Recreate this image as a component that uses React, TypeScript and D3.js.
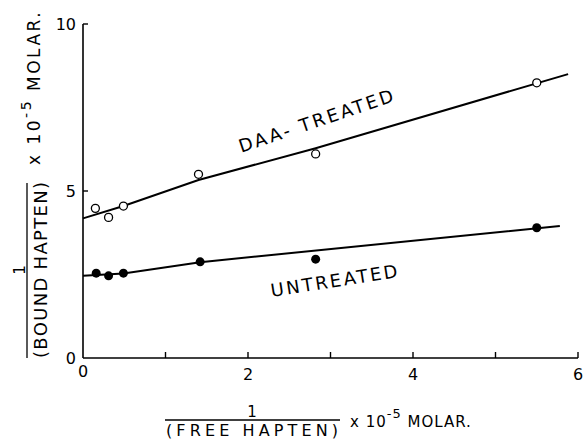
import React, { useRef, useEffect } from 'react';
import * as d3 from 'd3';

// reciprocal plot
const daaX = [0.15, 0.31, 0.49, 1.40, 2.82, 5.50];
const daaY = [4.48, 4.21, 4.55, 5.50, 6.11, 8.24];
const untreatedX = [0.16, 0.31, 0.49, 1.42, 2.82, 5.50];
const untreatedY = [2.54, 2.46, 2.54, 2.88, 2.96, 3.90];

// hand drawn fit lines
const daaFitX = [0, 0.49, 1.40, 2.82, 5.88];
const daaFitY = [4.18, 4.55, 5.33, 6.28, 8.50];
const untreatedFitX = [0, 0.49, 1.42, 5.78];
const untreatedFitY = [2.46, 2.53, 2.87, 3.95];

const xTickMarks = [1, 2, 3, 4, 5, 6];
const xTickLabels = [0, 2, 4, 6];
const yTickMarks = [5, 10];
const yTickLabels = [0, 5, 10];

const FONT = "'DejaVu Sans', sans-serif";

const App = () => {
  const svgRef = useRef<SVGSVGElement>(null);

  useEffect(() => {
    const svg = d3.select(svgRef.current);
    svg.selectAll('*').remove();

    const x = d3.scaleLinear().domain([0, 6]).range([83, 578]);
    const y = d3.scaleLinear().domain([0, 10]).range([358, 24]);

    const g = svg.append('g');

    // axes
    g.append('line')
      .attr('x1', x(0)).attr('x2', x(0))
      .attr('y1', y(0)).attr('y2', y(10))
      .attr('stroke', '#000').attr('stroke-width', 1.6);
    g.append('line')
      .attr('x1', x(0)).attr('x2', x(6))
      .attr('y1', y(0)).attr('y2', y(0))
      .attr('stroke', '#000').attr('stroke-width', 1.6);

    g.selectAll('.xtick')
      .data(xTickMarks)
      .enter().append('line')
      .attr('x1', d => x(d)).attr('x2', d => x(d))
      .attr('y1', y(0)).attr('y2', y(0) - 6)
      .attr('stroke', '#000').attr('stroke-width', 1.4);

    g.selectAll('.ytick')
      .data(yTickMarks)
      .enter().append('line')
      .attr('x1', x(0)).attr('x2', x(0) + 5)
      .attr('y1', d => y(d)).attr('y2', d => y(d))
      .attr('stroke', '#000').attr('stroke-width', 1.4);

    g.selectAll('.xlabel')
      .data(xTickLabels)
      .enter().append('text')
      .attr('x', d => x(d))
      .attr('y', d => (d === 0 ? y(0) + 19 : y(0) + 22))
      .attr('text-anchor', 'middle')
      .attr('font-family', FONT)
      .attr('font-size', 16)
      .text(d => d);

    g.selectAll('.ylabel')
      .data(yTickLabels)
      .enter().append('text')
      .attr('x', x(0) - 7)
      .attr('y', d => y(d) + 6)
      .attr('text-anchor', 'end')
      .attr('font-family', FONT)
      .attr('font-size', 16)
      .text(d => d);

    // fit lines
    const line = d3.line<number>()
      .x(d => x(d[0]))
      .y(d => y(d[1]));

    g.append('path')
      .datum(daaFitX.map((v, i) => [v, daaFitY[i]]))
      .attr('d', line as any)
      .attr('fill', 'none')
      .attr('stroke', '#000')
      .attr('stroke-width', 2);

    g.append('path')
      .datum(untreatedFitX.map((v, i) => [v, untreatedFitY[i]]))
      .attr('d', line as any)
      .attr('fill', 'none')
      .attr('stroke', '#000')
      .attr('stroke-width', 2);

    // points
    g.selectAll('.open')
      .data(daaX.map((v, i) => [v, daaY[i]]))
      .enter().append('circle')
      .attr('cx', d => x(d[0]))
      .attr('cy', d => y(d[1]))
      .attr('r', 4)
      .attr('fill', '#fff')
      .attr('stroke', '#000')
      .attr('stroke-width', 1.3);

    g.selectAll('.filled')
      .data(untreatedX.map((v, i) => [v, untreatedY[i]]))
      .enter().append('circle')
      .attr('cx', d => x(d[0]))
      .attr('cy', d => y(d[1]))
      .attr('r', 4.5)
      .attr('fill', '#000');

    // series labels
    g.append('text')
      .attr('transform', 'translate(318,127) rotate(-18.6)')
      .attr('text-anchor', 'middle')
      .attr('font-family', FONT)
      .attr('font-size', 18)
      .attr('textLength', 162)
      .text('DAA- TREATED');

    g.append('text')
      .attr('transform', 'translate(335,287) rotate(-9)')
      .attr('text-anchor', 'middle')
      .attr('font-family', FONT)
      .attr('font-size', 18)
      .attr('textLength', 128)
      .text('UNTREATED');

    // x axis title
    g.append('text')
      .attr('x', 252).attr('y', 417)
      .attr('text-anchor', 'middle')
      .attr('font-family', FONT)
      .attr('font-size', 15)
      .text('1');
    g.append('line')
      .attr('x1', 165).attr('x2', 340)
      .attr('y1', 420).attr('y2', 420)
      .attr('stroke', '#000').attr('stroke-width', 1.3);
    g.append('text')
      .attr('x', 252).attr('y', 436)
      .attr('text-anchor', 'middle')
      .attr('font-family', FONT)
      .attr('font-size', 16)
      .attr('textLength', 172)
      .text('(FREE HAPTEN)');
    const xt = g.append('text')
      .attr('x', 350).attr('y', 427)
      .attr('font-family', FONT)
      .attr('font-size', 15)
      .attr('letter-spacing', 1);
    xt.append('tspan').text('x 10');
    xt.append('tspan').attr('dy', -9).attr('font-size', 13).text('-5');
    xt.append('tspan').attr('dy', 9).text(' MOLAR.');

    // y axis title
    g.append('text')
      .attr('transform', 'translate(25,270) rotate(-90)')
      .attr('text-anchor', 'middle')
      .attr('font-family', FONT)
      .attr('font-size', 15)
      .text('1');
    g.append('line')
      .attr('x1', 27).attr('x2', 27)
      .attr('y1', 183).attr('y2', 358)
      .attr('stroke', '#000').attr('stroke-width', 1.3);
    g.append('text')
      .attr('transform', 'translate(47,270) rotate(-90)')
      .attr('text-anchor', 'middle')
      .attr('font-family', FONT)
      .attr('font-size', 18)
      .attr('textLength', 176)
      .text('(BOUND HAPTEN)');
    const yt = g.append('text')
      .attr('transform', 'translate(40,165) rotate(-90)')
      .attr('font-family', FONT)
      .attr('font-size', 17)
      .attr('letter-spacing', 2.5);
    yt.append('tspan').text('x 10');
    yt.append('tspan').attr('dy', -9).attr('font-size', 14).text('-5');
    yt.append('tspan').attr('dy', 9).text(' MOLAR.');
  }, []);

  return (
    <svg
      ref={svgRef}
      width={587}
      height={439}
      style={{ position: 'absolute', left: 0, top: 0, background: '#fff' }}
    />
  );
};

export default App;
